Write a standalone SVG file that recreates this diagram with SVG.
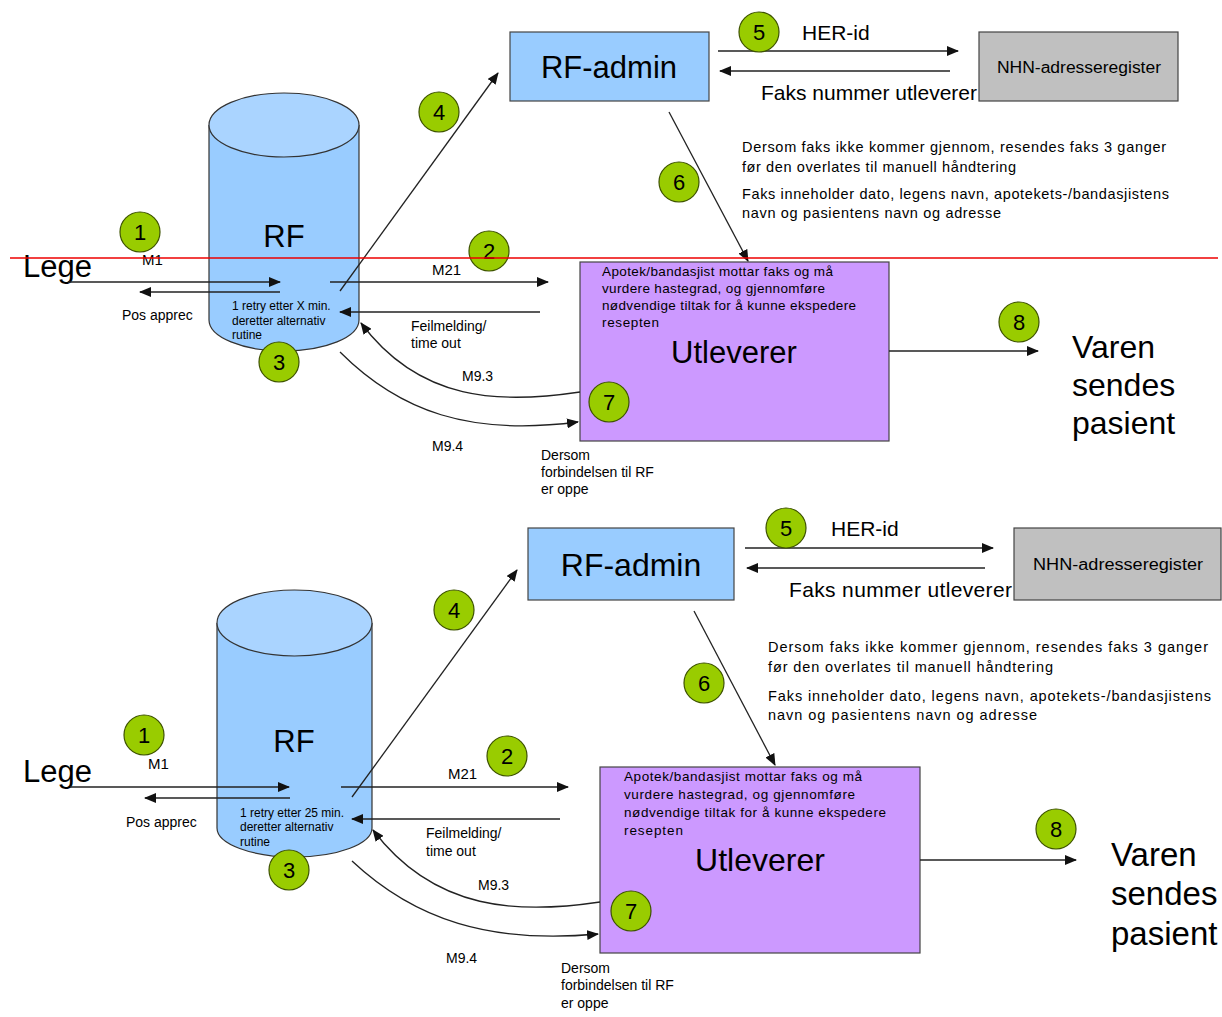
<svg xmlns="http://www.w3.org/2000/svg" width="1222" height="1017" viewBox="0 0 1222 1017">
<style>
text{font-family:"Liberation Sans",Arial,sans-serif;fill:#000}
.big{font-size:31px}
.big2{font-size:32px}
.mid{font-size:21px}
.sm{font-size:14px}
.ap{font-size:13.5px}
.m{font-size:15px}
.xs{font-size:12px}
.note{font-size:14.5px}
.nhn{font-size:16px}
.num{font-size:22px;text-anchor:middle}
.badge{fill:#99cc00;stroke:#3d5200;stroke-width:1.2}
.box{stroke:#444;stroke-width:1.2}
.cyl{fill:#99ccff;stroke:#333;stroke-width:1.2}
.conn line,.conn path{stroke:#222;stroke-width:1.3;fill:none}
.arr{marker-end:url(#ah)}
</style>
<defs>
<marker id="ah" markerWidth="12" markerHeight="10" refX="11" refY="5" orient="auto" markerUnits="userSpaceOnUse">
<path d="M0,0 L12,5 L0,10 Z" fill="#111"/>
</marker>
</defs>
<rect width="1222" height="1017" fill="#fff"/>

<!-- ===== TOP DIAGRAM ===== -->
<g id="top-rf">
<path class="cyl" d="M209,125 L209,320 A75,31 0 0 0 359,320 L359,125"/>
<ellipse cx="284" cy="125" rx="75" ry="32" fill="#aad4ff" stroke="#333" stroke-width="1.2"/>
<text class="big" x="284" y="247" text-anchor="middle">RF</text>
<text class="xs" x="232" y="310">1 retry etter X min.</text>
<text class="xs" x="232" y="325">deretter alternativ</text>
<text class="xs" x="232" y="339">rutine</text>
</g>
<g id="top-rfadmin">
<rect class="box" x="510" y="32" width="199" height="69" fill="#99ccff"/>
<text class="big" x="609" y="78" text-anchor="middle">RF-admin</text>
</g>
<g id="top-nhn">
<rect class="box" x="979" y="32" width="199" height="69" fill="#c0c0c0"/>
<text class="nhn" x="997" y="73" textLength="164" lengthAdjust="spacingAndGlyphs">NHN-adresseregister</text>
</g>
<g id="top-utleverer">
<rect class="box" x="580" y="262" width="309" height="179" fill="#cc99ff"/>
<text class="ap" x="602" y="276" textLength="231">Apotek/bandasjist mottar faks og må</text>
<text class="ap" x="602" y="293" textLength="223">vurdere hastegrad, og gjennomføre</text>
<text class="ap" x="602" y="310" textLength="254">nødvendige tiltak for å kunne ekspedere</text>
<text class="ap" x="602" y="327" textLength="57">resepten</text>
<text class="big" x="734" y="363" text-anchor="middle">Utleverer</text>
</g>
<g id="top-lege"><text class="big" x="23" y="277">Lege</text></g>
<g id="top-varen">
<text class="big2" x="1072" y="358">Varen</text>
<text class="big2" x="1072" y="396">sendes</text>
<text class="big2" x="1072" y="434">pasient</text>
</g>
<g id="top-notes">
<text class="note" x="742" y="152" textLength="424">Dersom faks ikke kommer gjennom, resendes faks 3 ganger</text>
<text class="note" x="742" y="172" textLength="274">før den overlates til manuell håndtering</text>
<text class="note" x="742" y="199" textLength="427">Faks inneholder dato, legens navn, apotekets-/bandasjistens</text>
<text class="note" x="742" y="218" textLength="259">navn og pasientens navn og adresse</text>
<text class="sm" x="541" y="460">Dersom</text>
<text class="sm" x="541" y="477">forbindelsen til RF</text>
<text class="sm" x="541" y="494">er oppe</text>
</g>
<g id="top-connectors" class="conn">
<line class="arr" x1="68" y1="282" x2="280" y2="282"/>
<line class="arr" x1="280" y1="292" x2="140" y2="292"/>
<line class="arr" x1="340" y1="291" x2="498" y2="73"/>
<line class="arr" x1="330" y1="282" x2="548" y2="282"/>
<line class="arr" x1="540" y1="312" x2="340" y2="312"/>
<path class="arr" d="M580,392 C500,404 420,402 361,323"/>
<path class="arr" d="M340,352 C400,412 470,436 578,422"/>
<line class="arr" x1="718" y1="51" x2="958" y2="51"/>
<line class="arr" x1="950" y1="71" x2="720" y2="71"/>
<line class="arr" x1="669" y1="112" x2="748" y2="261"/>
<line class="arr" x1="889" y1="351" x2="1038" y2="351"/>
</g>
<g id="top-labels">
<text class="m" x="142" y="265">M1</text>
<text class="sm" x="122" y="320">Pos apprec</text>
<text class="m" x="432" y="275">M21</text>
<text class="sm" x="411" y="331">Feilmelding/</text>
<text class="sm" x="411" y="348">time out</text>
<text class="sm" x="462" y="381">M9.3</text>
<text class="sm" x="432" y="451">M9.4</text>
<text class="mid" x="802" y="40">HER-id</text>
<text class="mid" x="761" y="100" textLength="216">Faks nummer utleverer</text>
</g>
<g id="top-badges">
<circle class="badge" cx="140" cy="232" r="20"/><text class="num" x="140" y="240">1</text>
<circle class="badge" cx="489" cy="251" r="20"/><text class="num" x="489" y="259">2</text>
<circle class="badge" cx="279" cy="362" r="20"/><text class="num" x="279" y="370">3</text>
<circle class="badge" cx="439" cy="112" r="20"/><text class="num" x="439" y="120">4</text>
<circle class="badge" cx="759" cy="32" r="20"/><text class="num" x="759" y="40">5</text>
<circle class="badge" cx="679" cy="182" r="20"/><text class="num" x="679" y="190">6</text>
<circle class="badge" cx="609" cy="402" r="20"/><text class="num" x="609" y="410">7</text>
<circle class="badge" cx="1019" cy="322" r="20"/><text class="num" x="1019" y="330">8</text>
</g>
<line x1="10" y1="258" x2="1218" y2="258" stroke="#e00" stroke-width="1.6"/>

<!-- ===== BOTTOM DIAGRAM ===== -->
<g id="bot-rf">
<path class="cyl" d="M217,623 L217,828 A77.5,29 0 0 0 372,828 L372,623"/>
<ellipse cx="294.5" cy="623" rx="77.5" ry="33" fill="#aad4ff" stroke="#333" stroke-width="1.2"/>
<text class="big" x="294" y="752" text-anchor="middle">RF</text>
<text class="xs" x="240" y="817">1 retry etter 25 min.</text>
<text class="xs" x="240" y="831">deretter alternativ</text>
<text class="xs" x="240" y="846">rutine</text>
</g>
<g id="bot-rfadmin">
<rect class="box" x="528" y="528" width="206" height="72" fill="#99ccff"/>
<text class="big2" x="631" y="576" text-anchor="middle">RF-admin</text>
</g>
<g id="bot-nhn">
<rect class="box" x="1014" y="528" width="207" height="72" fill="#c0c0c0"/>
<text class="nhn" x="1033" y="570" textLength="170" lengthAdjust="spacingAndGlyphs">NHN-adresseregister</text>
</g>
<g id="bot-utleverer">
<rect class="box" x="600" y="767" width="320" height="186" fill="#cc99ff"/>
<text class="ap" x="624" y="781" textLength="238">Apotek/bandasjist mottar faks og må</text>
<text class="ap" x="624" y="799" textLength="231">vurdere hastegrad, og gjennomføre</text>
<text class="ap" x="624" y="817" textLength="262">nødvendige tiltak for å kunne ekspedere</text>
<text class="ap" x="624" y="835" textLength="59">resepten</text>
<text class="big2" x="760" y="871" text-anchor="middle">Utleverer</text>
</g>
<g id="bot-lege"><text class="big" x="23" y="782">Lege</text></g>
<g id="bot-varen">
<text class="big2" x="1111" y="866" style="font-size:33px">Varen</text>
<text class="big2" x="1111" y="905" style="font-size:33px">sendes</text>
<text class="big2" x="1111" y="945" style="font-size:33px">pasient</text>
</g>
<g id="bot-notes">
<text class="note" x="768" y="652" textLength="440">Dersom faks ikke kommer gjennom, resendes faks 3 ganger</text>
<text class="note" x="768" y="672" textLength="285">før den overlates til manuell håndtering</text>
<text class="note" x="768" y="701" textLength="443">Faks inneholder dato, legens navn, apotekets-/bandasjistens</text>
<text class="note" x="768" y="720" textLength="269">navn og pasientens navn og adresse</text>
<text class="sm" x="561" y="973">Dersom</text>
<text class="sm" x="561" y="990">forbindelsen til RF</text>
<text class="sm" x="561" y="1008">er oppe</text>
</g>
<g id="bot-connectors" class="conn">
<line class="arr" x1="70" y1="787" x2="289" y2="787"/>
<line class="arr" x1="290" y1="798" x2="145" y2="798"/>
<line class="arr" x1="352" y1="797" x2="517" y2="570"/>
<line class="arr" x1="341" y1="787" x2="568" y2="787"/>
<line class="arr" x1="560" y1="819" x2="352" y2="819"/>
<path class="arr" d="M600,902 C520,914 435,912 373,830"/>
<path class="arr" d="M352,861 C415,920 490,944 598,934"/>
<line class="arr" x1="745" y1="548" x2="993" y2="548"/>
<line class="arr" x1="985" y1="568" x2="747" y2="568"/>
<line class="arr" x1="694" y1="611" x2="775" y2="765"/>
<line class="arr" x1="920" y1="860" x2="1076" y2="860"/>
</g>
<g id="bot-labels">
<text class="m" x="148" y="769">M1</text>
<text class="sm" x="126" y="827">Pos apprec</text>
<text class="m" x="448" y="779">M21</text>
<text class="sm" x="426" y="838">Feilmelding/</text>
<text class="sm" x="426" y="856">time out</text>
<text class="sm" x="478" y="890">M9.3</text>
<text class="sm" x="446" y="963">M9.4</text>
<text class="mid" x="831" y="536">HER-id</text>
<text class="mid" x="789" y="597" textLength="223">Faks nummer utleverer</text>
</g>
<g id="bot-badges">
<circle class="badge" cx="144" cy="735" r="20"/><text class="num" x="144" y="743">1</text>
<circle class="badge" cx="507" cy="756" r="20"/><text class="num" x="507" y="764">2</text>
<circle class="badge" cx="289" cy="870" r="20"/><text class="num" x="289" y="878">3</text>
<circle class="badge" cx="454" cy="610" r="20"/><text class="num" x="454" y="618">4</text>
<circle class="badge" cx="786" cy="528" r="20"/><text class="num" x="786" y="536">5</text>
<circle class="badge" cx="704" cy="683" r="20"/><text class="num" x="704" y="691">6</text>
<circle class="badge" cx="631" cy="911" r="20"/><text class="num" x="631" y="919">7</text>
<circle class="badge" cx="1056" cy="829" r="20"/><text class="num" x="1056" y="837">8</text>
</g>
</svg>
